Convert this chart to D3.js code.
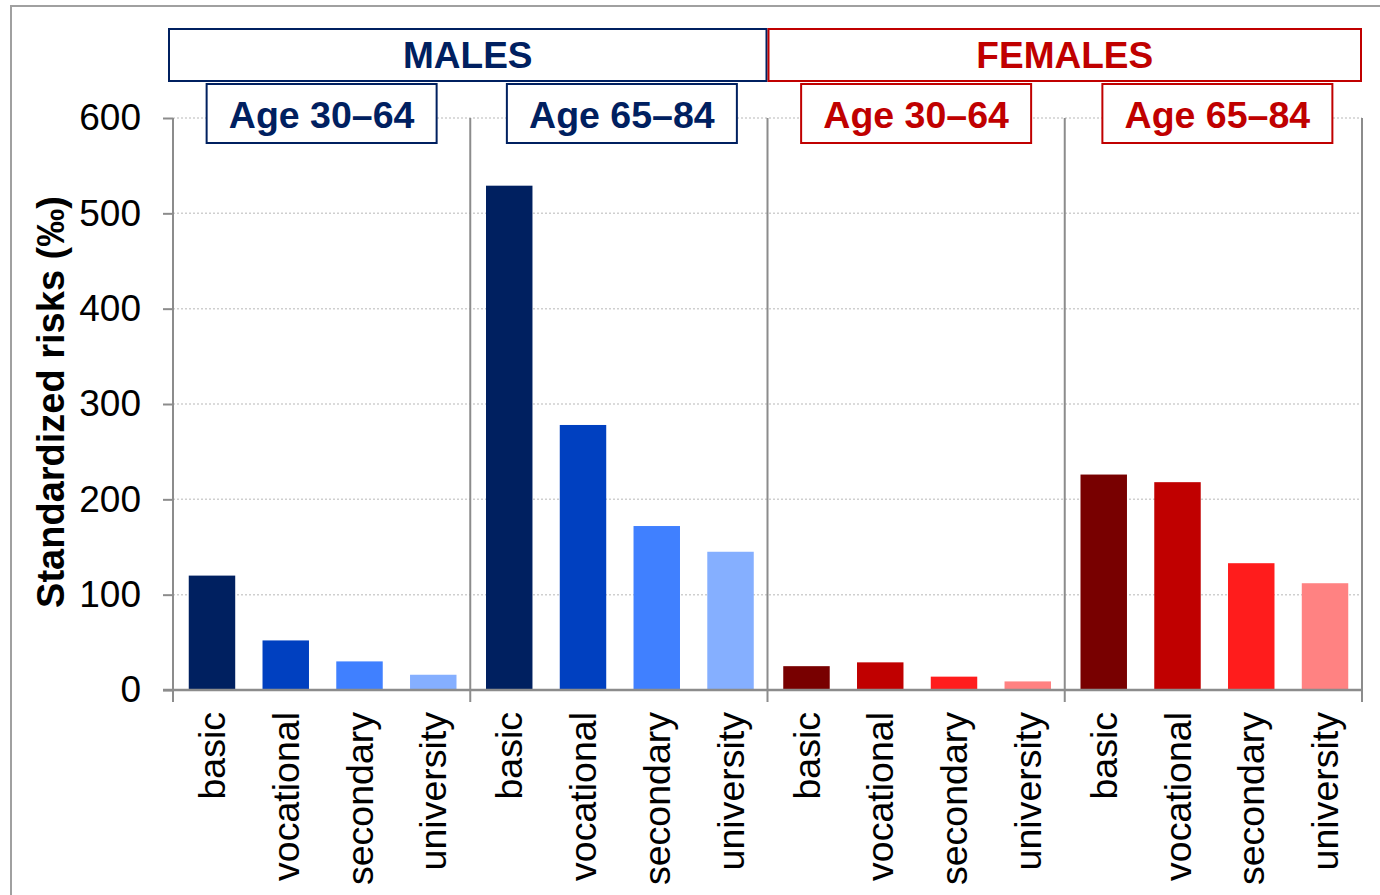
<!DOCTYPE html>
<html><head><meta charset="utf-8">
<script src="https://cdn.jsdelivr.net/npm/d3@7"></script>
<style>body{margin:0;background:#fff}svg{display:block;font-family:"Liberation Sans",Arial,sans-serif}</style>
</head><body>
<svg id="c" width="1380" height="895"></svg>
<script>
const groups = ["M1","M2","F1","F2"];
const groupLabels = ["Age 30–64","Age 65–84","Age 30–64","Age 65–84"];
const sexes = ["MALES","FEMALES"];
const categories = ["basic","vocational","secondary","university"];
const malesYoung = [120, 52, 30, 16];
const malesOld = [529, 278, 172, 145];
const femalesYoung = [25, 29, 14, 9];
const femalesOld = [226, 218, 133, 112];
const yTicks = [0,100,200,300,400,500,600];
const maleColors = ["#002060","#0040C0","#4080FF","#85AFFF"];
const femaleColors = ["#780000","#C00000","#FF1C1C","#FF8282"];

const seriesByGroup = [malesYoung, malesOld, femalesYoung, femalesOld];
const svg = d3.select("#c");
const navy = "#002060", red = "#C00000", axisGray = "#8c8c8c";

// outer frame
svg.append("rect").attr("x",11).attr("y",6).attr("width",1400).attr("height",920)
  .attr("fill","none").attr("stroke","#a0a0a0").attr("stroke-width",2);

const x0 = d3.scaleBand().domain(groups).range([173,1362]).padding(0);
const x1 = d3.scaleBand().domain(categories).range([0,x0.bandwidth()]).paddingInner(0.37).paddingOuter(0.2);
const y = d3.scaleLinear().domain([0,600]).range([690,118]);

// gridlines
svg.append("g").selectAll("line").data(yTicks.filter(d=>d>0)).join("line")
  .attr("x1",173).attr("x2",1362).attr("y1",d=>y(d)).attr("y2",d=>y(d))
  .attr("stroke","#cfcfcf").attr("stroke-width",1.5).attr("stroke-dasharray","2,2");

// bars
groups.forEach((g,gi)=>{
  const cols = gi<2 ? maleColors : femaleColors;
  svg.append("g").selectAll("rect").data(seriesByGroup[gi]).join("rect")
    .attr("x",(d,i)=>x0(g)+x1(categories[i])+1)
    .attr("width",x1.bandwidth())
    .attr("y",d=>y(d)).attr("height",d=>y(0)-y(d))
    .attr("fill",(d,i)=>cols[i]);
});

// y axis
const yAxis = d3.axisLeft(y).tickValues(yTicks).tickSize(10).tickPadding(22);
const ya = svg.append("g").attr("transform","translate(173,0)").call(yAxis);
ya.select(".domain").remove();
ya.selectAll(".tick line").attr("stroke",axisGray).attr("stroke-width",2);
ya.selectAll(".tick text").attr("font-size",37).attr("fill","#000").attr("font-family","Liberation Sans, Arial, sans-serif");

// separators (vertical lines at group boundaries)
const bounds = groups.map(g=>x0(g)).concat([x0.range()[1]]);
svg.append("g").selectAll("line").data(bounds).join("line")
  .attr("x1",d=>d).attr("x2",d=>d).attr("y1",y(600)).attr("y2",702)
  .attr("stroke",axisGray).attr("stroke-width",2);
// x axis line
svg.append("line").attr("x1",163).attr("x2",1362).attr("y1",y(0)).attr("y2",y(0))
  .attr("stroke",axisGray).attr("stroke-width",2.5);

// x labels
groups.forEach(g=>{
  svg.append("g").selectAll("text").data(categories).join("text")
    .attr("transform",d=>`translate(${x0(g)+x1(d)+x1.bandwidth()/2+1},712) rotate(-90)`)
    .attr("text-anchor","end").attr("dy","0.35em")
    .attr("font-size",37.5).attr("fill","#000").text(d=>d);
});

// y label
svg.append("text").attr("transform","translate(64,402) rotate(-90)")
  .attr("text-anchor","middle").attr("font-size",38).attr("font-weight","bold")
  .attr("fill","#000").text("Standardized risks (‰)");

// sex header boxes
const sexBoxes = [
  {label:sexes[0], x:x0("M1")-4, x2:x0("F1")-1, col:navy},
  {label:sexes[1], x:x0("F1")+1, x2:x0.range()[1]-1, col:red}
];
sexBoxes.forEach(b=>{
  svg.append("rect").attr("x",b.x).attr("y",29).attr("width",b.x2-b.x).attr("height",52)
    .attr("fill","#fff").attr("stroke",b.col).attr("stroke-width",2);
  svg.append("text").attr("x",(b.x+b.x2)/2).attr("y",68).attr("text-anchor","middle")
    .attr("font-size",37).attr("font-weight","bold").attr("fill",b.col).text(b.label);
});

// age boxes
const ageOffsets = [0,3,0,4];
groups.forEach((g,gi)=>{
  const col = gi<2 ? navy : red;
  const cx = x0(g)+x0.bandwidth()/2+ageOffsets[gi];
  svg.append("rect").attr("x",cx-115).attr("y",84).attr("width",230).attr("height",59)
    .attr("fill","#fff").attr("stroke",col).attr("stroke-width",2);
  svg.append("text").attr("x",cx).attr("y",128).attr("text-anchor","middle")
    .attr("font-size",37.5).attr("font-weight","bold").attr("fill",col).text(groupLabels[gi]);
});
</script>
</body></html>
